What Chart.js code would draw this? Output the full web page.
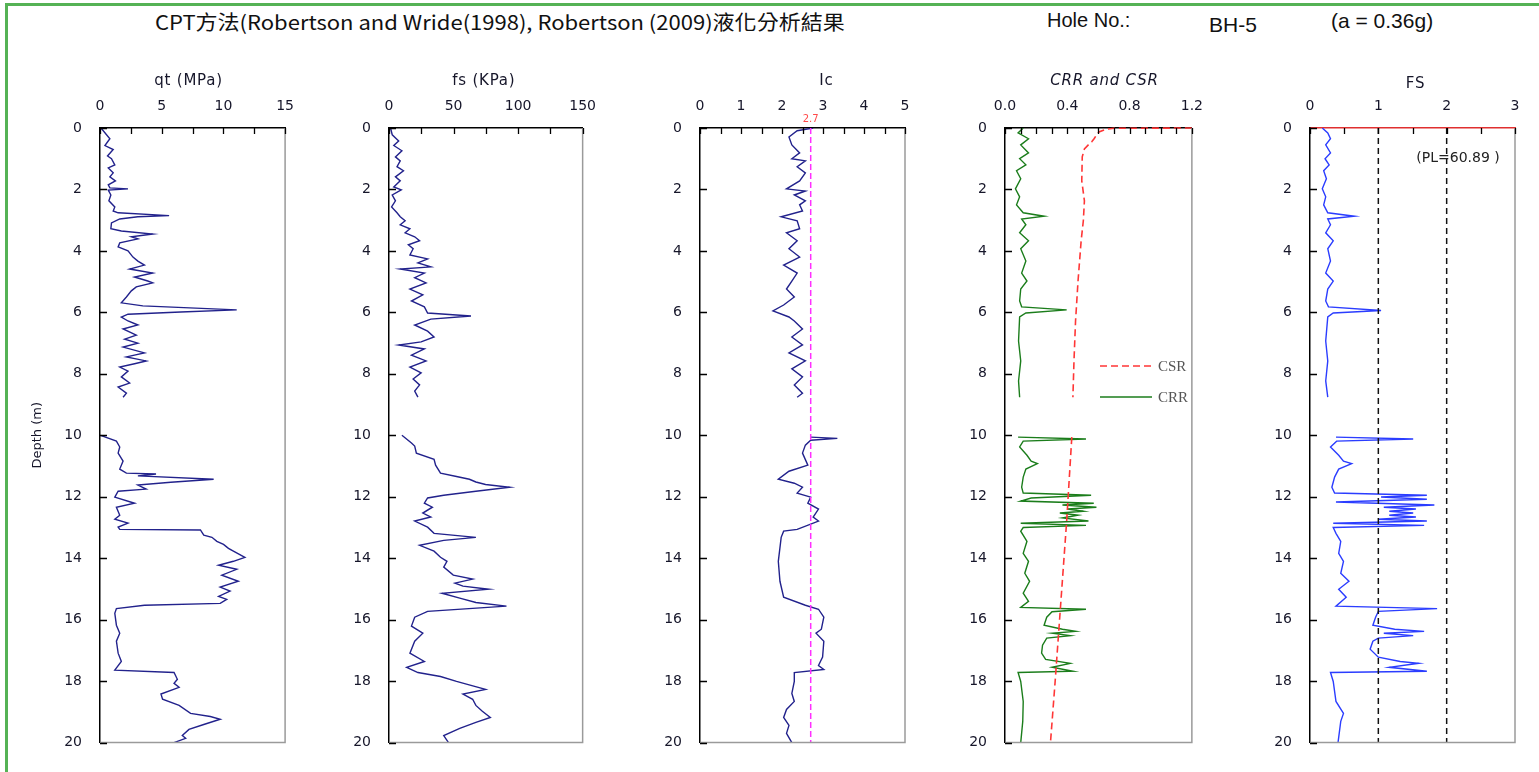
<!DOCTYPE html>
<html>
<head>
<meta charset="utf-8">
<title>CPT liquefaction analysis BH-5</title>
<script src="https://cdn.jsdelivr.net/npm/chart.js@4.4.1/dist/chart.umd.min.js"></script>
<style>
  html, body { margin: 0; padding: 0; background: #fff; }
  #page { position: relative; width: 1539px; height: 772px; overflow: hidden; background: #fff; }
  .frame-top { position: absolute; left: 5px; top: 3px; width: 1534px; height: 3px; background: #55b255; }
  .frame-left { position: absolute; left: 5px; top: 3px; width: 3px; height: 769px; background: #55b255; }
  .hdr { position: absolute; white-space: nowrap; line-height: 1; color: #111; transform-origin: 0 50%; }
  .panel { position: absolute; }
</style>
</head>
<body>
<div id="page">
  <div class="frame-top"></div>
  <div class="frame-left"></div>
  <div class="hdr" id="mainTitle" style="left:155px; top:12px; font-family:'Noto Sans CJK TC','Noto Sans',sans-serif; font-size:20px;">CPT方法(Robertson and Wride(1998), Robertson (2009)液化分析結果</div>
  <div class="hdr" style="left:1047px; top:10px; font-family:'Liberation Sans',Arial,sans-serif; font-size:20px;">Hole No.:</div>
  <div class="hdr" style="left:1209px; top:14px; font-family:'Liberation Sans',Arial,sans-serif; font-size:21px;">BH-5</div>
  <div class="hdr" style="left:1331px; top:10px; font-family:'Liberation Sans',Arial,sans-serif; font-size:21px;">(a = 0.36g)</div>
</div>

<script>
// ---------------- data (depth in m, null splits the two logged intervals) ----------------
const qtDepth = [0.00,0.35,0.57,0.70,0.91,1.00,1.20,1.30,1.46,1.59,1.72,1.85,1.95,1.98,2.02,2.18,2.37,2.57,2.70,2.76,2.85,2.89,2.96,3.09,3.28,3.35,3.45,3.54,3.61,3.74,3.87,4.00,4.20,4.33,4.46,4.59,4.72,4.85,4.98,5.04,5.17,5.30,5.50,5.69,5.79,5.92,5.99,6.06,6.15,6.28,6.41,6.54,6.74,6.87,7.00,7.13,7.32,7.45,7.58,7.67,7.78,7.91,8.10,8.30,8.43,8.63,8.76,
  null,
  10.00,10.19,10.38,10.58,10.84,11.10,11.23,11.26,11.32,11.43,11.53,11.62,11.75,11.82,12.01,12.21,12.34,12.60,12.73,12.86,12.99,13.06,13.08,13.25,13.32,13.45,13.55,13.68,13.77,13.97,14.10,14.23,14.36,14.55,14.75,14.94,15.07,15.24,15.34,15.47,15.53,15.64,15.79,16.18,16.44,16.70,17.09,17.36,17.64,17.72,17.94,18.07,18.20,18.42,18.59,18.79,19.05,19.15,19.24,19.41,19.57,19.77,19.86,20.00];
const qtValue = [0.08,0.80,0.40,1.07,0.61,0.93,1.20,0.67,1.07,0.80,1.25,0.67,0.80,2.27,0.67,0.88,0.72,1.20,1.07,1.47,5.60,3.07,1.60,0.93,0.88,1.73,4.27,2.54,3.07,1.60,1.47,2.27,2.67,3.07,3.60,2.40,4.27,2.80,3.87,4.27,2.94,2.54,2.14,1.73,3.47,11.08,6.54,2.27,1.73,2.27,3.07,1.87,2.94,2.00,3.07,1.87,3.60,2.14,3.74,2.80,1.60,2.27,1.73,2.40,1.47,2.14,1.87,
  null,
  0.05,1.33,1.60,1.47,1.87,1.60,2.14,4.54,3.07,9.21,5.74,3.07,3.74,1.47,1.20,2.80,1.33,1.60,1.20,2.27,1.47,1.60,8.14,8.41,9.07,9.47,10.01,10.41,10.81,11.74,10.81,9.61,11.08,9.87,11.21,9.74,10.54,9.61,10.27,9.74,3.60,1.33,1.20,1.33,1.60,1.33,1.47,1.73,1.20,6.00,6.27,6.00,6.41,4.94,5.07,6.41,7.34,8.94,9.74,8.41,7.21,6.67,6.94,6.00];

const fsDepth = [0.00,0.22,0.42,0.57,0.74,0.94,1.07,1.26,1.39,1.59,1.72,1.92,2.01,2.18,2.37,2.57,2.76,2.89,3.02,3.15,3.28,3.41,3.54,3.67,3.80,3.93,4.13,4.26,4.39,4.52,4.59,4.72,4.87,5.04,5.24,5.43,5.63,5.82,6.02,6.12,6.22,6.41,6.61,6.80,6.96,7.06,7.19,7.39,7.58,7.78,7.97,8.17,8.36,8.56,8.76,
  null,
  10.00,10.25,10.35,10.58,10.78,10.97,11.23,11.34,11.43,11.52,11.60,11.69,11.82,11.95,12.04,12.21,12.34,12.53,12.66,12.79,12.99,13.19,13.32,13.42,13.58,13.77,13.97,14.10,14.29,14.55,14.68,14.81,14.91,15.01,15.14,15.30,15.44,15.56,15.73,15.92,16.21,16.44,16.70,17.09,17.36,17.55,17.72,17.85,18.01,18.14,18.27,18.42,18.59,18.79,18.98,19.18,19.34,19.54,19.77,20.00];
const fsValue = [1.2,2.5,7.5,3.7,10.0,5.0,8.7,6.2,11.2,5.0,8.7,3.7,9.5,2.5,5.0,2.0,6.2,8.7,12.5,8.7,16.2,12.5,19.9,23.7,15.0,18.7,16.2,29.9,22.4,32.4,8.7,27.4,19.9,28.7,16.2,26.2,17.4,27.4,29.9,63.5,32.4,19.9,29.9,34.9,24.9,7.5,27.4,17.4,28.7,16.2,24.9,18.7,23.7,19.9,22.4,
  null,
  10.0,17.4,19.9,21.2,34.9,36.1,39.9,52.3,62.3,67.3,74.8,93.4,67.3,42.4,29.9,27.4,33.6,26.2,32.4,19.9,29.9,34.9,67.3,42.4,23.7,34.9,39.9,44.9,42.4,49.8,64.8,51.1,57.3,77.2,41.1,54.8,67.3,91.0,29.9,19.9,17.4,26.2,19.9,16.2,27.4,13.7,22.4,39.9,52.3,63.5,74.8,57.3,64.8,67.3,72.3,78.5,67.3,54.8,42.4,46.1];

const icDepth = [0.00,0.09,0.29,0.55,0.81,1.00,1.07,1.26,1.46,1.72,1.98,2.05,2.18,2.37,2.50,2.70,2.89,3.02,3.28,3.41,3.67,3.93,4.20,4.46,4.72,4.98,5.24,5.50,5.76,5.95,6.15,6.28,6.54,6.80,7.06,7.32,7.58,7.84,8.10,8.36,8.63,8.76,
  null,
  10.06,10.10,10.16,10.32,10.58,10.97,11.17,11.43,11.56,11.69,11.88,12.01,12.21,12.40,12.66,12.79,13.06,13.12,13.32,14.10,14.75,15.27,15.53,15.66,15.92,16.31,16.44,16.70,17.22,17.49,17.62,17.72,18.01,18.40,18.66,18.92,19.18,19.44,19.70,20.00];
const icValue = [2.76,2.37,2.17,2.24,2.43,2.24,2.57,2.37,2.57,2.43,2.11,2.57,2.30,2.57,2.43,2.50,1.98,2.37,2.43,2.11,2.37,2.17,2.43,2.04,2.37,2.24,2.11,2.30,2.04,1.78,2.17,2.30,2.50,2.24,2.50,2.17,2.57,2.24,2.50,2.30,2.50,2.37,
  null,
  2.70,3.35,2.70,2.57,2.50,2.63,2.17,1.91,2.30,2.50,2.37,2.70,2.63,2.89,2.76,2.89,2.37,2.04,1.98,1.91,1.95,2.04,2.57,2.89,3.02,2.96,2.83,3.02,2.99,2.89,3.02,2.30,2.30,2.24,2.30,2.11,2.04,2.17,2.11,2.24];
const icCutoff = 2.7;

const crrDepth = [0.00,0.16,0.35,0.55,0.81,1.00,1.20,1.39,1.65,1.98,2.24,2.50,2.76,2.87,2.96,3.15,3.41,3.67,3.93,4.33,4.72,4.98,5.24,5.63,5.82,5.92,6.02,6.15,6.93,7.58,8.23,8.76,
  null,
  10.06,10.12,10.19,10.38,10.65,10.84,10.92,11.10,11.36,11.69,11.88,11.95,12.04,12.14,12.21,12.27,12.34,12.40,12.47,12.53,12.60,12.69,12.79,12.86,12.93,13.00,13.12,13.45,13.84,14.10,14.49,14.75,15.14,15.40,15.60,15.66,15.74,15.92,16.18,16.31,16.38,16.44,16.52,16.60,16.83,17.09,17.29,17.42,17.55,17.68,17.72,18.01,18.66,19.31,20.00];
const crrValue = [0.117,0.084,0.151,0.101,0.151,0.094,0.134,0.074,0.101,0.067,0.094,0.074,0.117,0.251,0.107,0.134,0.094,0.151,0.101,0.134,0.107,0.141,0.101,0.094,0.107,0.396,0.134,0.094,0.087,0.101,0.087,0.094,
  null,
  0.084,0.520,0.117,0.094,0.141,0.168,0.208,0.134,0.117,0.107,0.117,0.553,0.168,0.101,0.570,0.369,0.587,0.402,0.503,0.352,0.469,0.369,0.536,0.101,0.520,0.117,0.101,0.141,0.117,0.151,0.127,0.158,0.117,0.151,0.101,0.520,0.302,0.268,0.251,0.369,0.453,0.302,0.419,0.268,0.241,0.235,0.261,0.419,0.302,0.436,0.084,0.101,0.117,0.114,0.101];

const csrDepth = [0.00,0.01,0.04,0.13,0.25,0.35,0.45,0.55,0.68,0.94,1.72,2.37,3.02,3.67,4.98,6.28,7.58,8.76, null, 10.06,12.79,15.40,18.01,20.00];
const csrValue = [1.20,0.700,0.650,0.603,0.585,0.572,0.557,0.535,0.510,0.496,0.493,0.510,0.503,0.489,0.469,0.453,0.443,0.436, null, 0.429,0.396,0.359,0.322,0.292];

const fosDepth = [0.00,0.16,0.35,0.55,0.81,1.00,1.20,1.39,1.65,1.98,2.24,2.50,2.76,2.87,2.96,3.15,3.41,3.67,3.93,4.33,4.72,4.98,5.24,5.63,5.82,5.94,6.02,6.15,6.93,7.58,8.23,8.76,
  null,
  10.06,10.12,10.19,10.38,10.65,10.84,10.92,11.10,11.36,11.69,11.88,11.95,12.01,12.08,12.17,12.27,12.34,12.40,12.47,12.53,12.60,12.66,12.73,12.79,12.86,12.93,13.00,13.19,13.45,13.84,14.10,14.49,14.75,15.01,15.27,15.56,15.64,15.73,15.92,16.18,16.31,16.38,16.44,16.52,16.60,16.70,16.96,17.22,17.36,17.42,17.55,17.68,17.72,18.01,18.66,19.05,19.31,20.00];
const fosValue = [0.18,0.26,0.30,0.23,0.30,0.22,0.28,0.20,0.24,0.18,0.23,0.20,0.26,0.65,0.26,0.30,0.23,0.34,0.26,0.30,0.23,0.34,0.26,0.23,0.27,1.04,0.34,0.26,0.23,0.26,0.23,0.26,
  null,
  0.38,1.51,0.39,0.30,0.42,0.49,0.61,0.42,0.36,0.32,0.36,1.71,1.04,1.71,0.38,1.82,1.08,1.55,1.16,1.51,1.16,1.55,1.00,1.71,0.34,1.67,0.34,0.38,0.45,0.42,0.49,0.45,0.57,0.42,0.53,0.38,1.86,1.00,0.96,0.92,1.24,1.67,1.08,1.51,1.00,0.92,0.88,1.00,1.32,1.59,1.16,1.71,0.30,0.34,0.38,0.49,0.45,0.41];
const fosLimits = [1, 2];
const liquefactionPotential = 60.89;

const depthRange = [0, 20];

// ---------------- layout & style ----------------
const CANVAS_TOP = 60, PLOT_TOP = 128, PLOT_BOTTOM = 749, PAD_R = 20, PAD_B = 20;
const FONT = "'DejaVu Sans', Verdana, sans-serif";
const TEXT_COLOR = '#16162a';
const NAVY = '#22228c', BLUE = '#2b3dff', GREEN = '#1b7d1b', RED = '#ff3636', MAGENTA = '#ff30ff';

function profile(depths, values, color, extra) {
  return Object.assign({
    data: depths.map((d, i) => ({ x: values[i], y: d })),
    showLine: true, borderColor: color, backgroundColor: color,
    borderWidth: 1.4, pointRadius: 0, spanGaps: false, tension: 0
  }, extra || {});
}
function verticalRef(value, color, dash) {
  return profile(depthRange, depthRange.map(() => value), color, { borderDash: dash, borderWidth: 1.5 });
}

const panelDecor = {
  id: 'panelDecor',
  afterDraw(chart, args, o) {
    const { ctx, chartArea: a, scales: { x, y } } = chart;
    ctx.save();
    // right and bottom frame
    ctx.strokeStyle = '#9a9a9a'; ctx.lineWidth = 1.5; ctx.setLineDash([]);
    ctx.beginPath();
    ctx.moveTo(a.right, a.top); ctx.lineTo(a.right, a.bottom); ctx.lineTo(a.left, a.bottom);
    ctx.stroke();
    // inward tick marks
    ctx.strokeStyle = '#000'; ctx.lineWidth = 1.3;
    ctx.beginPath();
    x.ticks.forEach(t => { const px = Math.round(x.getPixelForValue(t.value)) + 0.5; ctx.moveTo(px, a.top); ctx.lineTo(px, a.top + 6); });
    y.ticks.forEach(t => { const py = Math.round(y.getPixelForValue(t.value)) + 0.5; ctx.moveTo(a.left, py); ctx.lineTo(a.left + 7, py); });
    ctx.stroke();
    // panel title
    ctx.fillStyle = TEXT_COLOR;
    ctx.font = (o.titleItalic ? 'italic ' : '') + '15px ' + FONT;
    ctx.letterSpacing = '0.8px';
    ctx.textAlign = 'center'; ctx.textBaseline = 'middle';
    ctx.fillText(o.title, (a.left + a.right) / 2 + (o.titleShift || 0), a.top - o.titleRise);
    ctx.letterSpacing = '0px';
    // free notes
    (o.notes || []).forEach(n => {
      ctx.fillStyle = n.color; ctx.font = n.font;
      ctx.textAlign = 'center'; ctx.textBaseline = 'middle';
      const px = n.value !== undefined ? x.getPixelForValue(n.value) : a.left + n.dx;
      ctx.fillText(n.text, px, a.top + n.dy);
    });
    // in-plot legend
    if (o.legend) {
      const L = o.legend;
      chart.data.datasets.filter(d => d.label).forEach((d, i) => {
        const yy = a.top + L.dy + i * L.gap, x0 = a.left + L.dx;
        ctx.strokeStyle = d.borderColor; ctx.lineWidth = 1.6; ctx.setLineDash(d.borderDash || []);
        ctx.beginPath(); ctx.moveTo(x0, yy); ctx.lineTo(x0 + L.len, yy); ctx.stroke();
        ctx.setLineDash([]);
        ctx.fillStyle = '#555'; ctx.font = "15px 'Liberation Serif', 'Times New Roman', serif";
        ctx.textAlign = 'left'; ctx.textBaseline = 'middle';
        ctx.fillText(d.label, x0 + L.len + 6, yy + 1);
      });
    }
    ctx.restore();
  }
};

const isMajor = (v, m) => Math.abs(v / m - Math.round(v / m)) < 1e-6;

const panels = [
  { left: 100, right: 287, yW: 90, xMax: 15, step: 2.5, major: 5, fmt: v => String(v),
    decor: { title: 'qt (MPa)', titleRise: 47, titleShift: -4 }, depthTitle: true,
    datasets: [profile(qtDepth, qtValue, NAVY)] },
  { left: 389, right: 589, yW: 70, xMax: 150, step: 25, major: 50, fmt: v => String(v),
    decor: { title: 'fs (KPa)', titleRise: 47, titleShift: -2 },
    datasets: [profile(fsDepth, fsValue, NAVY)] },
  { left: 700, right: 905, yW: 70, xMax: 5, step: 0.5, major: 1, fmt: v => String(v),
    decor: { title: 'Ic', titleRise: 47, titleShift: 24,
      notes: [{ text: String(icCutoff), value: icCutoff, dy: -9, color: '#ff4a4a', font: '10px ' + FONT }] },
    datasets: [verticalRef(icCutoff, MAGENTA, [6, 3]), profile(icDepth, icValue, NAVY)] },
  { left: 1005, right: 1196, yW: 70, xMax: 1.2, step: 0.1, major: 0.4, fmt: v => v.toFixed(1),
    decor: { title: 'CRR and CSR', titleRise: 47, titleShift: 6, titleItalic: true,
      legend: { dx: 95, dy: 238, gap: 31, len: 52 } },
    datasets: [profile(csrDepth, csrValue, RED, { label: 'CSR', borderDash: [7, 4], borderWidth: 1.6, clip: 4 }),
               profile(crrDepth, crrValue, GREEN, { label: 'CRR' })] },
  { left: 1310, right: 1515, yW: 70, xMax: 3, step: 0.5, major: 1, fmt: v => String(v),
    topBorder: { color: '#e03030', dash: [2, 2] },
    decor: { title: 'FS', titleRise: 44, titleShift: 3,
      notes: [{ text: '(PL=' + liquefactionPotential.toFixed(2) + ' )', dx: 148, dy: 30, color: '#222', font: '14px ' + FONT }] },
    datasets: [...fosLimits.map(v => verticalRef(v, '#111', [6, 4])), profile(fosDepth, fosValue, BLUE)] }
];

const page = document.getElementById('page');
panels.forEach(p => {
  const canvasLeft = p.left - p.yW;
  const w = p.right - canvasLeft + PAD_R;
  const h = PLOT_BOTTOM - CANVAS_TOP + PAD_B;
  const host = document.createElement('div');
  host.className = 'panel';
  Object.assign(host.style, { left: canvasLeft + 'px', top: CANVAS_TOP + 'px', width: w + 'px', height: h + 'px' });
  const cv = document.createElement('canvas');
  cv.width = w; cv.height = h; cv.style.width = w + 'px'; cv.style.height = h + 'px';
  host.appendChild(cv); page.appendChild(host);

  const tickFont = { family: FONT, size: 14 };
  new Chart(cv, {
    type: 'scatter',
    data: { datasets: p.datasets },
    plugins: [panelDecor],
    options: {
      responsive: false, animation: false, devicePixelRatio: 1,
      layout: { padding: { left: 0, top: 0, right: PAD_R, bottom: PAD_B }, autoPadding: false },
      plugins: { legend: { display: false }, tooltip: { enabled: false }, panelDecor: p.decor },
      scales: {
        x: {
          type: 'linear', position: 'top', min: 0, max: p.xMax,
          afterFit: s => { s.height = PLOT_TOP - CANVAS_TOP; },
          ticks: { stepSize: p.step, autoSkip: false, maxRotation: 0, padding: 13, color: TEXT_COLOR, font: tickFont,
                   callback: v => isMajor(v, p.major) ? p.fmt(v) : '' },
          grid: { display: true, drawOnChartArea: false, drawTicks: false },
          border: { display: true, color: p.topBorder ? p.topBorder.color : '#000', width: 1.5,
                    dash: p.topBorder ? p.topBorder.dash : [] }
        },
        y: {
          type: 'linear', position: 'left', reverse: true, min: depthRange[0], max: depthRange[1],
          afterFit: s => { s.width = p.yW; },
          ticks: { stepSize: 2, padding: 18, color: TEXT_COLOR, font: tickFont },
          grid: { display: true, drawOnChartArea: false, drawTicks: false },
          border: { display: true, color: '#000', width: 1.5 },
          title: { display: !!p.depthTitle, text: 'Depth (m)', color: TEXT_COLOR,
                   font: { family: FONT, size: 13 }, padding: { top: 20, bottom: 0 } }
        }
      }
    }
  });
});

// fit the main heading to its line width
const mt = document.getElementById('mainTitle');
mt.style.transform = 'scaleX(' + (690 / mt.offsetWidth) + ')';
</script>
</body>
</html>
